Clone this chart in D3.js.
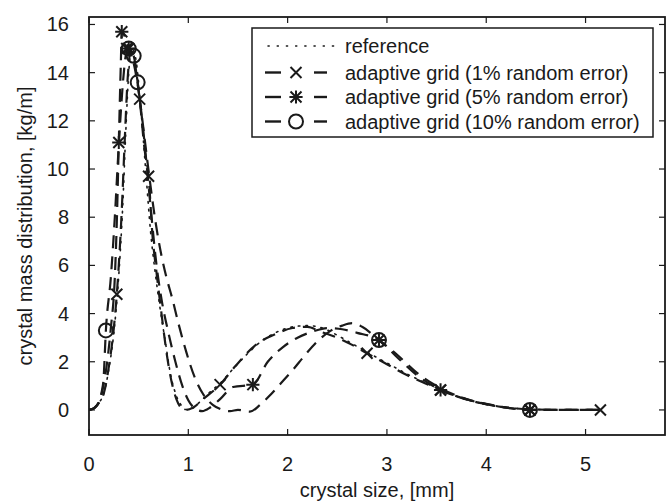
<!DOCTYPE html>
<html><head><meta charset="utf-8">
<script src="https://cdn.jsdelivr.net/npm/d3@7"></script>
<style>body{margin:0;background:#fff}svg{display:block}text{font-family:"Liberation Sans",Arial,sans-serif;fill:#1a1a1a}</style>
</head><body><svg id="c" width="670" height="503"></svg>
<script>
// ---- data ----
const xTicks = [0,1,2,3,4,5];
const yTicks = [0,2,4,6,8,10,12,14,16];
const seriesNames = ["reference","adaptive grid (1% random error)","adaptive grid (5% random error)","adaptive grid (10% random error)"];
const refCurve = [[0,0],[0.05,0.08],[0.1,0.3],[0.15,0.7],[0.2,1.7],[0.25,3.2],[0.3,5.6],[0.34,8.5],[0.37,11.5],[0.4,14.0],[0.43,15.0],[0.47,14.6],[0.52,12.6],[0.57,10.0],[0.62,7.4],[0.67,5.6],[0.72,4.1],[0.77,2.8],[0.82,1.5],[0.87,0.7],[0.92,0.25],[0.97,0.02],[1.03,0.05],[1.12,0.35],[1.22,0.75],[1.32,1.1],[1.45,1.7],[1.6,2.35],[1.75,2.9],[1.9,3.25],[2.05,3.45],[2.2,3.5],[2.35,3.4],[2.5,3.1],[2.65,2.75],[2.8,2.4],[3.0,1.95],[3.2,1.5],[3.4,1.1],[3.55,0.82],[3.75,0.5],[3.95,0.28],[4.15,0.13],[4.35,0.05],[4.6,0.01],[4.9,0],[5.15,0]];
const err1Curve = [[0,0],[0.05,0.08],[0.1,0.3],[0.15,0.7],[0.2,1.8],[0.25,3.4],[0.28,4.8],[0.33,8.3],[0.36,11.2],[0.39,13.8],[0.42,14.9],[0.46,14.4],[0.51,12.9],[0.56,10.8],[0.6,9.7],[0.64,7.2],[0.68,5.7],[0.73,4.0],[0.78,2.4],[0.83,1.2],[0.88,0.45],[0.93,0.08],[0.98,0.0],[1.05,0.1],[1.15,0.45],[1.32,1.05],[1.47,1.8],[1.68,2.7],[1.88,3.15],[2.05,3.4],[2.2,3.45],[2.33,3.25],[2.5,3.0],[2.65,2.7],[2.8,2.35],[3.0,1.9],[3.2,1.45],[3.4,1.08],[3.54,0.83],[3.75,0.5],[3.95,0.28],[4.15,0.13],[4.44,0.03],[4.8,0],[5.15,0]];
const err1Marks = [[0.28,4.8],[0.38,15.0],[0.51,12.9],[0.6,9.7],[1.32,1.05],[2.8,2.35],[3.54,0.83],[4.44,0.0],[5.15,0.0]];
const err5Curve = [[0,0],[0.06,0.1],[0.11,0.4],[0.14,0.9],[0.18,1.9],[0.22,3.4],[0.26,5.5],[0.28,7.8],[0.3,11.1],[0.32,14.3],[0.33,15.7],[0.36,15.5],[0.4,15.0],[0.46,14.2],[0.52,12.6],[0.58,10.2],[0.63,8.0],[0.68,6.0],[0.73,4.6],[0.8,3.2],[0.87,2.0],[0.94,1.0],[1.0,0.4],[1.07,0.05],[1.14,-0.05],[1.22,0.1],[1.32,0.45],[1.45,0.95],[1.65,1.05],[1.8,2.0],[1.95,2.6],[2.1,3.0],[2.25,3.25],[2.4,3.4],[2.55,3.35],[2.7,3.2],[2.92,2.9],[3.1,2.2],[3.3,1.45],[3.54,0.83],[3.8,0.45],[4.0,0.25],[4.2,0.1],[4.44,0.0],[4.7,0],[5.15,0]];
const err5Marks = [[0.30,11.1],[0.33,15.7],[0.40,15.0],[1.65,1.05],[2.92,2.9],[3.54,0.83],[4.44,0.0]];
const err10Curve = [[0,0],[0.06,0.1],[0.1,0.35],[0.13,0.8],[0.145,1.2],[0.17,3.3],[0.22,5.5],[0.26,8.0],[0.3,11.0],[0.34,13.5],[0.37,14.7],[0.4,15.0],[0.45,14.7],[0.49,13.6],[0.55,11.6],[0.61,9.6],[0.67,7.8],[0.73,6.4],[0.78,5.5],[0.84,4.6],[0.9,3.6],[0.98,2.4],[1.06,1.4],[1.15,0.65],[1.25,0.2],[1.35,0.0],[1.42,-0.05],[1.5,0.0],[1.62,-0.07],[1.72,0.2],[1.82,0.6],[1.92,1.05],[2.05,1.65],[2.18,2.3],[2.3,2.85],[2.42,3.25],[2.55,3.5],[2.65,3.6],[2.75,3.45],[2.92,2.9],[3.1,2.3],[3.3,1.55],[3.54,0.9],[3.8,0.45],[4.05,0.2],[4.25,0.07],[4.44,0.0],[4.7,0],[5.15,0]];
const err10Marks = [[0.17,3.3],[0.40,15.0],[0.45,14.7],[0.49,13.6],[2.92,2.9],[4.44,0.0]];

// ---- layout ----
const svg = d3.select("#c");
const L=89,R=665,T=17,B=435;
const x = d3.scaleLinear().domain([0,5.8]).range([L,R]);
const y = d3.scaleLinear().domain([-1.04,16.31]).range([B,T]);
const ink="#1a1a1a";
const fs=20;

const g = svg.append("g");
svg.append("clipPath").attr("id","pc").append("rect").attr("x",L).attr("y",T).attr("width",R-L).attr("height",B-T);

const line = d3.line().x(d=>x(d[0])).y(d=>y(d[1])).curve(d3.curveMonotoneX);
const plot = g.append("g").attr("clip-path","url(#pc)");
plot.append("path").datum(refCurve).attr("d",line).attr("fill","none").attr("stroke",ink).attr("stroke-width",1.6).attr("stroke-dasharray","1.6,6").attr("stroke-linecap","round");
const dash="13,8";
[err1Curve,err5Curve,err10Curve].forEach(c=>{
  plot.append("path").datum(c).attr("d",line).attr("fill","none").attr("stroke",ink).attr("stroke-width",2.2).attr("stroke-dasharray",dash);
});

function drawMark(sel,type,cx,cy){
  const s=5.5;
  if(type==="x"||type==="*"){
    sel.append("path").attr("d",`M${cx-s},${cy-s}L${cx+s},${cy+s}M${cx-s},${cy+s}L${cx+s},${cy-s}`).attr("stroke",ink).attr("stroke-width",2).attr("fill","none");
  }
  if(type==="*"){
    sel.append("path").attr("d",`M${cx-s*1.2},${cy}L${cx+s*1.2},${cy}M${cx},${cy-s*1.2}L${cx},${cy+s*1.2}`).attr("stroke",ink).attr("stroke-width",2).attr("fill","none");
  }
  if(type==="o"){
    sel.append("circle").attr("cx",cx).attr("cy",cy).attr("r",7).attr("stroke",ink).attr("stroke-width",2).attr("fill","none");
  }
}
err1Marks.forEach(d=>drawMark(plot,"x",x(d[0]),y(d[1])));
err5Marks.forEach(d=>drawMark(plot,"*",x(d[0]),y(d[1])));
err10Marks.forEach(d=>drawMark(plot,"o",x(d[0]),y(d[1])));

// ---- axes ----
const ax = g.append("g");
ax.append("rect").attr("x",L).attr("y",T).attr("width",R-L).attr("height",B-T).attr("fill","none").attr("stroke",ink).attr("stroke-width",1.8);
xTicks.forEach(t=>{
  ax.append("line").attr("x1",x(t)).attr("x2",x(t)).attr("y1",B).attr("y2",B-6).attr("stroke",ink).attr("stroke-width",1.2);
  ax.append("line").attr("x1",x(t)).attr("x2",x(t)).attr("y1",T).attr("y2",T+6).attr("stroke",ink).attr("stroke-width",1.2);
  ax.append("text").attr("x",x(t)).attr("y",471).attr("text-anchor","middle").attr("font-size",fs).text(t);
});
yTicks.forEach(t=>{
  ax.append("line").attr("x1",L).attr("x2",L+6).attr("y1",y(t)).attr("y2",y(t)).attr("stroke",ink).attr("stroke-width",1.2);
  ax.append("line").attr("x1",R).attr("x2",R-6).attr("y1",y(t)).attr("y2",y(t)).attr("stroke",ink).attr("stroke-width",1.2);
  ax.append("text").attr("x",69).attr("y",y(t)+7).attr("text-anchor","end").attr("font-size",fs).text(t);
});
svg.append("text").attr("x",x(2.9)).attr("y",497).attr("text-anchor","middle").attr("font-size",fs).text("crystal size, [mm]");
svg.append("text").attr("transform",`translate(32,${(T+B)/2}) rotate(-90)`).attr("text-anchor","middle").attr("font-size",fs).text("crystal mass distribution, [kg/m]");

// ---- legend ----
const lg = svg.append("g");
lg.append("rect").attr("x",252).attr("y",28).attr("width",401).attr("height",109).attr("fill","#fff").attr("stroke",ink).attr("stroke-width",1.5);
const rows=[46,72.5,97,121.5];
const types=[null,"x","*","o"];
seriesNames.forEach((n,i)=>{
  const ry=rows[i];
  if(i===0){
    lg.append("line").attr("x1",268).attr("x2",338).attr("y1",ry).attr("y2",ry).attr("stroke",ink).attr("stroke-width",1.5).attr("stroke-dasharray","1.2,8").attr("stroke-linecap","round");
  } else {
    lg.append("line").attr("x1",265).attr("x2",281).attr("y1",ry).attr("y2",ry).attr("stroke",ink).attr("stroke-width",2.4);
    lg.append("line").attr("x1",314).attr("x2",327).attr("y1",ry).attr("y2",ry).attr("stroke",ink).attr("stroke-width",2.4);
    drawMark(lg,types[i],296,ry);
  }
  lg.append("text").attr("x",345).attr("y",ry+7).attr("font-size",fs).text(n);
});
</script></body></html>
